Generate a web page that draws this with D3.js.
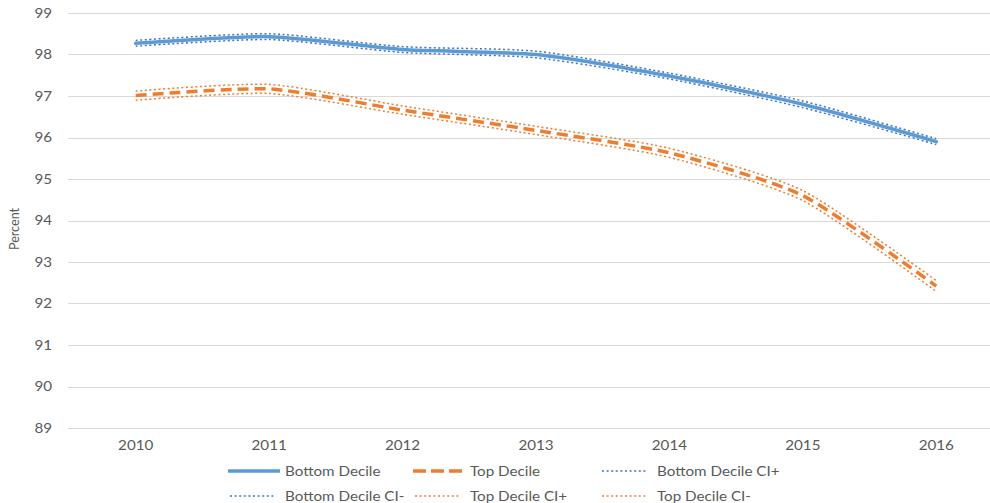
<!DOCTYPE html>
<html>
<head>
<meta charset="utf-8">
<script src="https://cdn.jsdelivr.net/npm/d3@7"></script>
<style>
  html, body { margin: 0; padding: 0; background: #fff; }
  svg { display: block; }
  text { font-family: Lato, "Open Sans", sans-serif; fill: #595959; }
</style>
</head>
<body>
<svg id="chart" width="990" height="503"></svg>
<script>
// Share of people, by income decile, 2010-2016
const years = ["2010", "2011", "2012", "2013", "2014", "2015", "2016"];
const bottomDecile   = [98.27, 98.43, 98.12, 98.00, 97.48, 96.80, 95.90];
const topDecile      = [97.01, 97.17, 96.66, 96.17, 95.63, 94.60, 92.42];
const bottomCIplus   = [98.34, 98.50, 98.19, 98.08, 97.55, 96.88, 95.97];
const bottomCIminus  = [98.20, 98.36, 98.05, 97.92, 97.41, 96.72, 95.83];
const topCIplus      = [97.12, 97.28, 96.76, 96.27, 95.74, 94.72, 92.55];
const topCIminus     = [96.90, 97.06, 96.56, 96.07, 95.52, 94.48, 92.29];
const yTicks = [89, 90, 91, 92, 93, 94, 95, 96, 97, 98, 99];

const svg = d3.select("#chart");
const plotLeft = 69, plotRight = 1003, plotTop = 13, plotBottom = 428;
const stretch = 1.17;   // labels are set slightly wide

const x = d3.scaleBand().domain(years).range([plotLeft, plotRight]).padding(0);
const cx = d => x(d) + x.bandwidth() / 2;
const y = d3.scaleLinear().domain([89, 99]).range([plotBottom, plotTop]);

// horizontal gridlines
svg.append("g")
  .selectAll("line").data(yTicks).join("line")
  .attr("x1", plotLeft - 1).attr("x2", plotRight)
  .attr("y1", d => Math.round(y(d)) + 0.5).attr("y2", d => Math.round(y(d)) + 0.5)
  .attr("stroke", "#d9d9d9").attr("stroke-width", 1);

// y tick labels
svg.append("g")
  .selectAll("text").data(yTicks).join("text")
  .attr("transform", d => `translate(52,${y(d)}) scale(${stretch},1)`)
  .attr("dy", "0.35em").attr("text-anchor", "end")
  .attr("font-size", 13).text(d => d);

// x tick labels
svg.append("g")
  .selectAll("text").data(years).join("text")
  .attr("transform", d => `translate(${cx(d)},445) scale(${stretch},1)`)
  .attr("dy", "0.35em").attr("text-anchor", "middle")
  .attr("font-size", 13).text(d => d);

// axis title
svg.append("text")
  .attr("transform", "translate(19,229) rotate(-90) scale(1.05,1.1)")
  .attr("text-anchor", "middle").attr("font-size", 12)
  .text("Percent");

const line = d3.line()
  .x((d, i) => cx(years[i]))
  .y(d => y(d))
  .curve(d3.curveCardinal.tension(0.35));

const blue = "#5b9bd5", orange = "#ed7d31", ciBlue = "#4472c4", ciOrange = "#ed7d31";
const dotted = "2,2.6", dashed = "11,6";
const series = [
  { name: "Bottom Decile",     values: bottomDecile,  color: blue,     width: 3.5, dash: null },
  { name: "Top Decile",        values: topDecile,     color: orange,   width: 3.5, dash: dashed },
  { name: "Bottom Decile CI+", values: bottomCIplus,  color: ciBlue,   width: 1.5, dash: dotted },
  { name: "Bottom Decile CI-", values: bottomCIminus, color: ciBlue,   width: 1.5, dash: dotted },
  { name: "Top Decile CI+",    values: topCIplus,     color: ciOrange, width: 1.5, dash: dotted },
  { name: "Top Decile CI-",    values: topCIminus,    color: ciOrange, width: 1.5, dash: dotted }
];

svg.append("g")
  .selectAll("path").data(series).join("path")
  .attr("d", d => line(d.values))
  .attr("fill", "none")
  .attr("stroke", d => d.color)
  .attr("stroke-width", d => d.width)
  .attr("stroke-dasharray", d => d.dash)
  .attr("stroke-linecap", d => d.dash ? "butt" : "round");

// legend, two rows of three
const legendOrder = [0, 1, 2, 3, 4, 5];
const colX = [285, 470, 657], rowY = [471, 496];
const lg = svg.append("g").selectAll("g").data(legendOrder.map(i => series[i])).join("g")
  .attr("transform", (d, i) => `translate(${colX[i % 3]},${rowY[Math.floor(i / 3)]})`);
lg.append("line")
  .attr("x1", d => d.dash === dotted ? -55 : -57)
  .attr("x2", d => d.dash === dotted ? -10 : -5)
  .attr("y1", 0).attr("y2", 0)
  .attr("stroke", d => d.color)
  .attr("stroke-width", d => d.width)
  .attr("stroke-dasharray", d => d.dash === dashed ? "13,5" : d.dash);
lg.append("text")
  .attr("transform", `scale(${stretch},1)`)
  .attr("dy", "0.35em")
  .attr("font-size", 13).text(d => d.name);
</script>
</body>
</html>
